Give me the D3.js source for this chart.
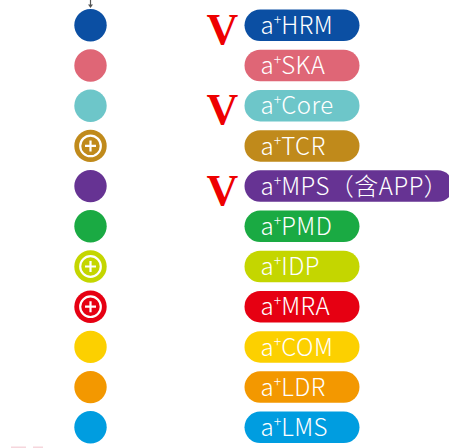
<!DOCTYPE html>
<html><head><meta charset="utf-8">
<script src="https://cdn.jsdelivr.net/npm/d3@7"></script>
<style>html,body{margin:0;padding:0;background:#fff;overflow:hidden}</style>
</head><body>
<svg id="c" width="449" height="448"></svg>
<script>
const names = ["HRM","SKA","Core","TCR","MPS（含APP）","PMD","IDP","MRA","COM","LDR","LMS"];
const colors = ["#0b4fa3","#df6676","#6dc6c9","#c08a1b","#663393","#1aaa43","#c4d600","#e60012","#fcd000","#f39800","#009de0"];
const marked = [true,false,true,false,true,false,false,false,false,false,false];
const plusIcon = [false,false,false,true,false,false,true,true,false,false,false];

const svg = d3.select("#c");
const y = d3.scalePoint().domain(names).range([25.3, 427.3]);
const circleX = 90.5, r = 16.2, pillX = 244.5, pillH = 31.5, minPill = 115;

// top arrow
svg.append("line").attr("x1",circleX).attr("x2",circleX).attr("y1",0).attr("y2",6)
  .attr("stroke","#555").attr("stroke-width",1.2);
svg.append("path").attr("d",`M${circleX-2.5},4.5L${circleX+2.5},4.5L${circleX},8Z`).attr("fill","#555");

// faint bottom marks
svg.append("rect").attr("x",11).attr("y",446.5).attr("width",15).attr("height",1.5).attr("fill","#f6d6dc");
svg.append("rect").attr("x",33).attr("y",446.5).attr("width",10).attr("height",1.5).attr("fill","#f6d6dc");

const rows = svg.selectAll("g.row").data(names).join("g").attr("class","row")
  .attr("transform", d => `translate(0,${y(d)})`);

rows.append("circle").attr("cx",circleX).attr("cy",0).attr("r",r)
  .attr("fill",(d,i)=>colors[i]);

rows.filter((d,i)=>plusIcon[i]).each(function(){
  const g = d3.select(this);
  g.append("circle").attr("cx",circleX).attr("cy",0).attr("r",10.3)
    .attr("fill","none").attr("stroke","#fff").attr("stroke-width",2.2);
  g.append("path").attr("d",`M${circleX-5.5},0H${circleX+5.5}M${circleX},-5.5V5.5`)
    .attr("stroke","#fff").attr("stroke-width",2.2).attr("fill","none");
});

rows.filter((d,i)=>marked[i]).append("text")
  .attr("x",222.5).attr("y",18.5).attr("text-anchor","middle")
  .attr("font-family","'Liberation Serif', serif").attr("font-weight","bold")
  .attr("font-size",44).attr("fill","#ee0000").text("V");

const pills = rows.append("rect").attr("x",pillX).attr("y",-pillH/2)
  .attr("height",pillH).attr("rx",pillH/2).attr("ry",pillH/2)
  .attr("fill",(d,i)=>colors[i]);

const txt = rows.append("text").attr("x",260.5).attr("y",8.6)
  .attr("font-family","'Noto Sans CJK SC','Noto Sans',sans-serif")
  .attr("font-weight",300).attr("letter-spacing",0.5)
  .attr("font-size",24).attr("fill","#fff");
txt.append("tspan").text("a");
txt.append("tspan").attr("font-size",14).attr("dy",-9).attr("dx",-0.5).text("+");
txt.append("tspan").attr("dy",9).attr("dx",-0.5).text(d=>d);

txt.each(function(d,i){
  const w = this.getComputedTextLength();
  d3.select(pills.nodes()[i]).attr("width", Math.max(minPill, w + 20));
});
</script>
</body></html>
